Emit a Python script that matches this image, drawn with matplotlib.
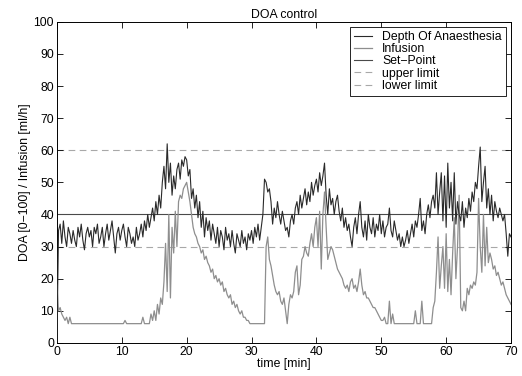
import numpy as np
import matplotlib
matplotlib.use("Agg")
import matplotlib.pyplot as plt

plt.rcParams['font.family'] = ['Liberation Sans', 'DejaVu Sans']

# sampled every 0.25 min, 0..70
t_step = 0.25

doa = [
    0, 35, 37, 31, 38, 33, 30, 36, 34, 31, 35, 32, 30, 36, 33, 37, 32, 29, 34, 36,
    33, 35, 30, 36, 34, 37, 31, 33, 36, 30, 34, 37, 32, 35, 38, 33, 28, 34, 36, 32,
    35, 37, 33, 30, 36, 34, 31, 33, 30, 36, 32, 34, 37, 33, 38, 35, 40, 36, 39, 42,
    38, 44, 40, 46, 42, 50, 55, 48, 62, 50, 56, 46, 52, 48, 54, 56, 51, 57, 55, 58,
    57, 52, 54, 45, 48, 42, 46, 39, 44, 36, 41, 33, 39, 35, 38, 32, 37, 34, 31, 36,
    30, 35, 33, 29, 36, 32, 34, 30, 35, 31, 28, 34, 32, 30, 35, 31, 33, 29, 34, 32,
    35, 31, 36, 33, 37, 32, 36, 40, 51, 50, 47, 48, 44, 37, 42, 39, 44, 40, 37, 41,
    38, 35, 36, 33, 38, 40, 37, 42, 44, 40, 46, 42, 45, 48, 43, 47, 44, 50, 46, 49,
    51, 47, 53, 49, 52, 56, 46, 40, 48, 43, 45, 40, 44, 46, 41, 38, 42, 36, 39, 35,
    37, 33, 30, 36, 39, 34, 40, 44, 36, 33, 38, 32, 40, 36, 34, 39, 33, 37, 35, 40,
    34, 38, 33, 36, 37, 42, 35, 33, 38, 35, 32, 34, 30, 33, 30, 32, 35, 31, 34, 37,
    33, 38, 36, 40, 45, 35, 38, 34, 40, 43, 39, 44, 46, 42, 53, 40, 47, 53, 38, 52,
    36, 56, 42, 50, 38, 53, 37, 44, 40, 38, 44, 36, 42, 39, 45, 41, 47, 44, 50, 48,
    55, 61, 44, 50, 55, 42, 48, 40, 46, 38, 44, 41, 39, 42, 40, 38, 40, 34, 27, 34,
    33,
]

infusion = [
    18, 10, 11, 9, 8, 7, 8, 6, 8, 6, 6, 6, 6, 6, 6, 6, 6, 6, 6, 6,
    6, 6, 6, 6, 6, 6, 6, 6, 6, 6, 6, 6, 6, 6, 6, 6, 6, 6, 6, 6,
    6, 6, 7, 6, 6, 6, 6, 6, 6, 6, 6, 6, 6, 8, 6, 6, 6, 6, 9, 7,
    10, 7, 12, 9, 14, 12, 19, 31, 16, 40, 14, 36, 28, 41, 30, 44, 46, 45, 48, 49,
    50, 47, 44, 40, 36, 34, 33, 31, 30, 28, 29, 26, 27, 25, 24, 22, 23, 20, 21, 19,
    20, 18, 19, 16, 17, 15, 14, 15, 12, 13, 11, 12, 10, 9, 10, 8, 8, 7, 7, 6,
    6, 6, 6, 6, 6, 6, 6, 6, 6, 30, 33, 26, 24, 21, 18, 16, 15, 16, 13, 12,
    14, 10, 6, 12, 15, 14, 16, 22, 24, 15, 18, 26, 27, 30, 28, 27, 31, 34, 30, 36,
    39, 30, 41, 23, 40, 47, 36, 26, 28, 30, 29, 27, 25, 23, 22, 21, 20, 18, 17, 18,
    16, 19, 20, 17, 18, 16, 19, 23, 18, 15, 16, 14, 14, 13, 12, 11, 11, 10, 9, 8,
    7, 7, 8, 6, 6, 13, 6, 9, 6, 6, 6, 6, 6, 6, 6, 6, 6, 6, 6, 6,
    6, 10, 6, 6, 6, 13, 6, 6, 6, 6, 6, 6, 11, 13, 22, 33, 17, 24, 30, 17,
    34, 16, 26, 15, 28, 39, 20, 30, 46, 11, 10, 13, 10, 17, 15, 18, 17, 19, 18, 22,
    45, 30, 22, 40, 24, 36, 25, 28, 26, 23, 24, 21, 22, 20, 18, 19, 17, 15, 14, 13,
    12,
]

set_point = 40
upper_limit = 60
lower_limit = 30

t = np.arange(len(doa)) * t_step

fig = plt.figure(figsize=(5.22, 3.76), dpi=100)
ax = fig.add_axes([0.109, 0.088, 0.870, 0.854])

ax.plot(t, doa, color='#2a2a2a', lw=0.8, label='Depth Of Anaesthesia', zorder=4)
ax.plot(t, infusion, color='#8e8e8e', lw=0.9, label='Infusion', zorder=3)
ax.axhline(set_point, color='#4a4a4a', lw=0.8, label='Set\u2212Point', zorder=2)
ax.axhline(upper_limit, color='#a8a8a8', lw=0.8, ls=(0, (6, 4)), label='upper limit', zorder=1)
ax.axhline(lower_limit, color='#a8a8a8', lw=0.8, ls=(0, (6, 4)), label='lower limit', zorder=1)

ax.set_xlim(0, 70)
ax.set_ylim(0, 100)
ax.set_xticks(range(0, 71, 10))
ax.set_yticks(range(0, 101, 10))
ax.tick_params(direction='in', top=True, right=True, length=4, width=0.6, labelsize=8.8, pad=2)
for s in ax.spines.values():
    s.set_linewidth(0.7)

ax.set_title('DOA control', fontsize=8.8, pad=3)
ax.set_xlabel('time [min]', fontsize=8.8, labelpad=0)
ax.set_ylabel('DOA [0\u2212100] / Infusion [ml/h]', fontsize=8.8, labelpad=2)

leg = ax.legend(loc='upper right', fontsize=8.8, handlelength=1.5, handletextpad=0.8,
                borderaxespad=0.45, labelspacing=0.02, borderpad=0.3, fancybox=False)
leg.get_frame().set_edgecolor('black')
leg.get_frame().set_linewidth(0.6)
leg.get_frame().set_alpha(1)

fig.savefig('out.png', dpi=100)
